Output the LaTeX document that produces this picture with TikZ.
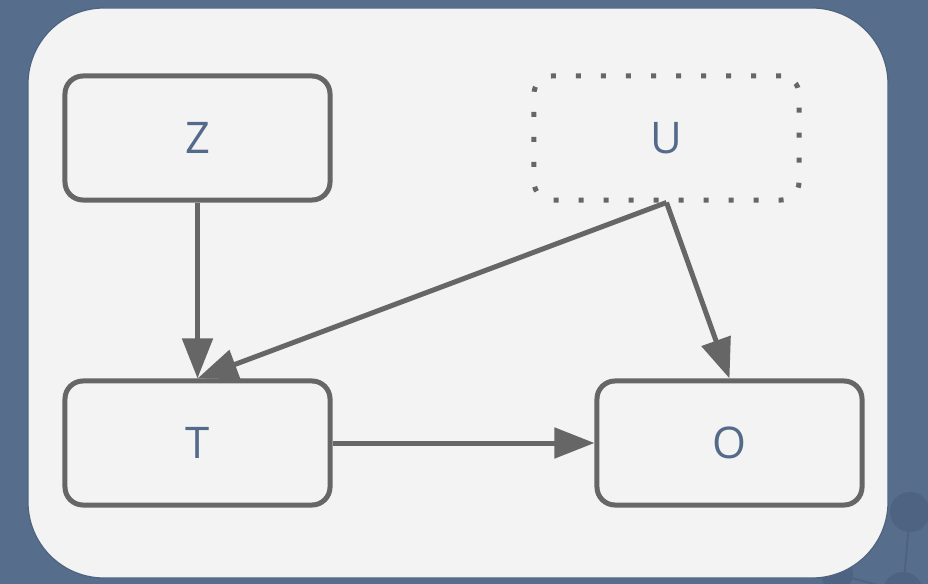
\documentclass[tikz,border=0pt]{standalone}
\usepackage{fontspec}
\setmainfont{Open Sans}
\usepackage{tikz}
\usetikzlibrary{arrows.meta}
\definecolor{slate}{HTML}{566D8B}
\definecolor{slatedark}{HTML}{4D6381}
\definecolor{panel}{HTML}{F3F3F3}
\definecolor{edgegray}{HTML}{666666}
\definecolor{labelblue}{HTML}{546A8A}

\begin{document}
\begin{tikzpicture}[x=0.025cm,y=-0.025cm]
  \tikzstyle{var} = [draw=edgegray,line width=0.125cm,rounded corners=0.45cm,minimum width=6.625cm,minimum height=3.1cm,text=labelblue,font=\fontsize{31}{31}\selectfont]
  \tikzstyle{hidden} = [var,dash pattern=on 0.125cm off 0.5cm]
  \tikzstyle{link} = [draw=edgegray,line width=0.125cm,-{Triangle[length=1cm,width=0.75cm]}]
  %
  % Background and panel.
  \fill[slate] (0,0) rectangle (928,584);
  \useasboundingbox (0,0) rectangle (928,584);
  \fill[slatedark] (910,512) circle (20) (903,592) circle (20) (837,574) circle (16);
  \draw[slatedark,line width=0.05cm] (910,512) -- (903,592) (837,574) -- (903,592);
  \fill[panel,draw=slatedark,line width=0.03cm,rounded corners=1.9cm] (28,8) rectangle (888,578);
  %
  % Variables.
  \node[var] (Z) at (197.5,138) {Z};
  \node[hidden] (U) at (666.5,138) {U};
  \node[var] (T) at (197.5,443) {T};
  \node[var] (O) at (729.5,443) {O};
  %
  % Causal links.
  \draw[link] (Z) -- (T);
  \draw[link] (U.south) -- (T.north);
  \draw[link] (U.south) -- (O.north);
  \draw[link] (T) -- (O);
\end{tikzpicture}
\end{document}
